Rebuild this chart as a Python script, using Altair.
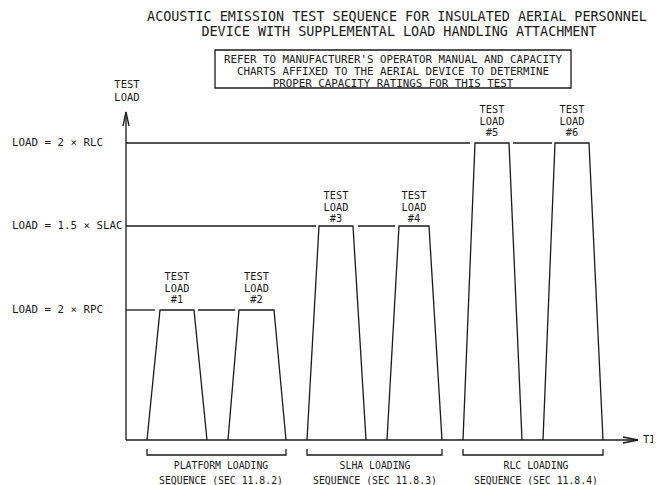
import altair as alt
import pandas as pd

# ---------------- data ----------------
title_lines = [
    "ACOUSTIC EMISSION TEST SEQUENCE FOR INSULATED AERIAL PERSONNEL",
    "DEVICE WITH SUPPLEMENTAL LOAD HANDLING ATTACHMENT",
]
title_y = [4.23, 4.085]
title_x = [27.1, 27.3]

note_lines = [
    "REFER TO MANUFACTURER'S OPERATOR MANUAL AND CAPACITY",
    "CHARTS AFFIXED TO THE AERIAL DEVICE TO DETERMINE",
    "PROPER CAPACITY RATINGS FOR THIS TEST",
]
note_y = [3.80, 3.68, 3.56]
note_x = [26.7, 26.7, 26.7]
note_box_t = [8.9, 44.5]
note_box_load = [3.52, 3.90]

axis_title_lines = ["TEST", "LOAD"]
axis_title_y = [3.55, 3.42]
axis_top = 3.28
axis_right = 51.2

level_names = ["LOAD = 2 \u00d7 RPC", "LOAD = 1.5 \u00d7 SLAC", "LOAD = 2 \u00d7 RLC"]
level_values = [1.30, 2.14, 2.97]

test_names = ["#1", "#2", "#3", "#4", "#5", "#6"]
test_level = [1.30, 1.30, 2.14, 2.14, 2.97, 2.97]
ramp_start = [2.1, 10.2, 18.1, 26.1, 33.7, 41.7]
hold_start = [3.4, 11.3, 19.3, 27.3, 34.9, 42.9]
hold_end = [6.8, 14.8, 22.7, 30.3, 38.3, 46.3]
ramp_end = [8.1, 16.0, 24.0, 31.6, 39.6, 47.7]
test_label_gap = [0.10, 0.10, 0.07, 0.07, 0.10, 0.10]

guide_level = [1.30, 1.30, 2.14, 2.14, 2.97, 2.97]
guide_from = [0.0, 7.2, 0.0, 23.2, 0.0, 38.7]
guide_to = [2.9, 10.9, 19.0, 26.9, 34.4, 42.6]

seq_line1 = ["PLATFORM LOADING", "SLHA LOADING", "RLC LOADING"]
seq_line2 = ["SEQUENCE (SEC 11.8.2)", "SEQUENCE (SEC 11.8.3)", "SEQUENCE (SEC 11.8.4)"]
seq_from = [2.1, 18.1, 33.7]
seq_to = [16.0, 31.6, 47.7]
seq_label_x = [9.5, 24.9, 41.0]
bracket_y = -0.15
bracket_tick = -0.09
seq_label_y = [-0.26, -0.41]

# ---------------- helpers ----------------
FONT = "DejaVu Sans Mono"
INK = "#1a1a1a"
XS = alt.Scale(domain=[-11.8, 52.7], nice=False, zero=False)
YS = alt.Scale(domain=[-0.45, 4.32], nice=False, zero=False)


def X(f):
    return alt.X(f"{f}:Q", scale=XS, axis=None)


def Y(f):
    return alt.Y(f"{f}:Q", scale=YS, axis=None)


def text_layer(df, size, align="center"):
    return alt.Chart(df).mark_text(
        font=FONT, fontSize=size, align=align, baseline="middle", color=INK
    ).encode(x=X("t"), y=Y("load"), text="label:N")


# ---------------- tables ----------------
trap_rows = []
for i, name in enumerate(test_names):
    pts = [(ramp_start[i], 0.0), (hold_start[i], test_level[i]),
           (hold_end[i], test_level[i]), (ramp_end[i], 0.0)]
    for k, (t, l) in enumerate(pts):
        trap_rows.append({"g": name, "o": k, "t": t, "load": l})
trap_df = pd.DataFrame(trap_rows)

guide_df = pd.DataFrame({"t": guide_from, "t2": guide_to, "load": guide_level})

br_rows = []
for i in range(len(seq_from)):
    pts = [(seq_from[i], bracket_tick), (seq_from[i], bracket_y),
           (seq_to[i], bracket_y), (seq_to[i], bracket_tick)]
    for k, (t, l) in enumerate(pts):
        br_rows.append({"g": i, "o": k, "t": t, "load": l})
br_df = pd.DataFrame(br_rows)

axis_rows = [
    {"g": "y", "o": 0, "t": 0.0, "load": 0.0},
    {"g": "y", "o": 1, "t": 0.0, "load": axis_top},
    {"g": "ya", "o": 0, "t": -0.3, "load": axis_top - 0.14},
    {"g": "ya", "o": 1, "t": 0.0, "load": axis_top},
    {"g": "ya", "o": 2, "t": 0.3, "load": axis_top - 0.14},
    {"g": "x", "o": 0, "t": 0.0, "load": 0.0},
    {"g": "x", "o": 1, "t": axis_right, "load": 0.0},
    {"g": "xa", "o": 0, "t": axis_right - 1.5, "load": 0.03},
    {"g": "xa", "o": 1, "t": axis_right, "load": 0.0},
    {"g": "xa", "o": 2, "t": axis_right - 1.5, "load": -0.03},
]
axis_df = pd.DataFrame(axis_rows)

label_rows = []
for i, name in enumerate(test_names):
    c = (hold_start[i] + hold_end[i]) / 2
    base = test_level[i] + test_label_gap[i]
    for txt, off in zip(["TEST", "LOAD", name], [0.23, 0.11, 0.0]):
        label_rows.append({"t": c, "load": base + off, "label": txt})
test_label_df = pd.DataFrame(label_rows)

seq_rows = []
for i in range(len(seq_line1)):
    seq_rows.append({"t": seq_label_x[i], "load": seq_label_y[0], "label": seq_line1[i]})
    seq_rows.append({"t": seq_label_x[i], "load": seq_label_y[1], "label": seq_line2[i]})
seq_df = pd.DataFrame(seq_rows)

# ---------------- layers ----------------
line_kw = dict(color=INK, strokeWidth=1.3)

axes = alt.Chart(axis_df).mark_line(**line_kw).encode(
    x=X("t"), y=Y("load"), detail="g:N", order="o:Q")

traps = alt.Chart(trap_df).mark_line(**line_kw).encode(
    x=X("t"), y=Y("load"), detail="g:N", order="o:Q")

guides = alt.Chart(guide_df).mark_rule(**line_kw).encode(
    x=X("t"), x2="t2:Q", y=Y("load"))

brackets = alt.Chart(br_df).mark_line(**line_kw).encode(
    x=X("t"), y=Y("load"), detail="g:N", order="o:Q")

box = alt.Chart(pd.DataFrame({"t": [note_box_t[0]], "t2": [note_box_t[1]],
                              "load": [note_box_load[0]], "load2": [note_box_load[1]]})
                ).mark_rect(fill=None, stroke=INK, strokeWidth=1.3).encode(
    x=X("t"), x2="t2:Q", y=Y("load"), y2="load2:Q")

title_txt = text_layer(pd.DataFrame({"t": title_x, "load": title_y, "label": title_lines}), 13.4)
note_txt = text_layer(pd.DataFrame({"t": note_x, "load": note_y, "label": note_lines}), 10.8)
axis_txt = text_layer(pd.DataFrame({"t": [0.1, 0.1], "load": axis_title_y, "label": axis_title_lines}), 10.5)
level_txt = text_layer(pd.DataFrame({"t": [-11.4] * 3, "load": level_values, "label": level_names}), 10.8, align="left")
time_txt = text_layer(pd.DataFrame({"t": [axis_right + 0.5], "load": [0.0], "label": ["TIME"]}), 10.5, align="left")
test_txt = text_layer(test_label_df, 10.3)
seq_txt = text_layer(seq_df, 9.8)

chart = alt.layer(
    axes, traps, guides, brackets, box,
    title_txt, note_txt, axis_txt, level_txt, time_txt, test_txt, seq_txt
).properties(
    width=645, height=477, autosize="none", padding=0, background="white"
).configure_view(strokeWidth=0)

chart.save("out.html", embed_options={"renderer": "svg", "actions": False})
